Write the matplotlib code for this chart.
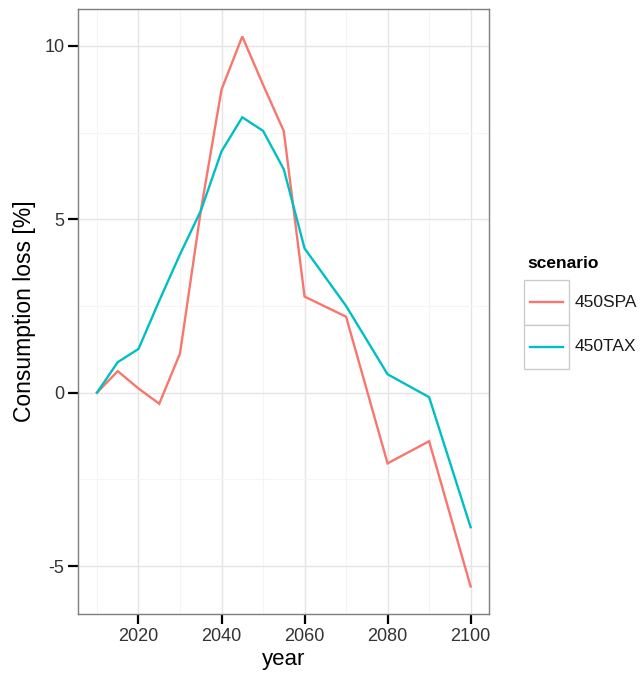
import matplotlib.pyplot as plt
from matplotlib.patches import Rectangle
from matplotlib.lines import Line2D

plt.rcParams['font.family'] = ['Liberation Sans', 'DejaVu Sans']
plt.rcParams['axes.unicode_minus'] = False

# Data
years = [2010, 2015, 2020, 2025, 2030, 2035, 2040, 2045, 2050, 2055, 2060, 2070, 2080, 2090, 2100]
spa = [0.0, 0.62, 0.12, -0.32, 1.13, 5.24, 8.74, 10.27, 8.88, 7.54, 2.77, 2.19, -2.04, -1.40, -5.59]
tax = [0.0, 0.88, 1.26, 2.65, 3.99, 5.24, 6.96, 7.94, 7.55, 6.44, 4.16, 2.50, 0.53, -0.13, -3.88]
scenarios = ['450SPA', '450TAX']
colors = ['#F8766D', '#00BFC4']
xticks = [2020, 2040, 2060, 2080, 2100]
yticks = [-5, 0, 5, 10]

W, H = 644, 681
fig = plt.figure(figsize=(W / 100, H / 100), dpi=100)
ax = fig.add_axes([78.3 / W, 1 - 614 / H, (489.3 - 78.3) / W, (614 - 9) / H])

for series, name, col in zip([spa, tax], scenarios, colors):
    ax.plot(years, series, color=col, lw=1.7, label=name, solid_joinstyle='miter')

# ggplot-like expansion
xr = max(years) - min(years)
ax.set_xlim(min(years) - 0.05 * xr, max(years) + 0.05 * xr)
lo = min(min(spa), min(tax))
hi = max(max(spa), max(tax))
ax.set_ylim(lo - 0.05 * (hi - lo), hi + 0.05 * (hi - lo))

ax.set_xticks(xticks)
ax.set_yticks(yticks)
ax.set_xticks([2010, 2030, 2050, 2070, 2090], minor=True)
ax.set_yticks([-2.5, 2.5, 7.5], minor=True)
ax.grid(which='major', color='#e5e5e5', lw=1.0)
ax.grid(which='minor', color='#f5f5f5', lw=0.8)
ax.set_axisbelow(True)
ax.tick_params(which='major', length=7, width=1.6, color='black',
               labelsize=13, labelcolor='#333333', pad=3)
ax.tick_params(which='minor', length=0)
for s in ax.spines.values():
    s.set_color('#7f7f7f')
    s.set_linewidth(1.0)

ax.set_xlabel('year', fontsize=16, labelpad=3)
ax.set_ylabel('Consumption loss [%]', fontsize=16.5, labelpad=6)

# legend drawn like ggplot's guide
fig.text(527 / W, 1 - 263 / H, 'scenario', fontsize=12.5, fontweight='bold',
         va='center', ha='left')
for i, (name, col) in enumerate(zip(scenarios, colors)):
    top = 280 + i * 44.5
    fig.patches.append(Rectangle((524 / W, 1 - (top + 44.5) / H), 45 / W, 44.5 / H,
                                 transform=fig.transFigure, facecolor='white',
                                 edgecolor='#cccccc', lw=1.0))
    yc = 1 - (top + 22.25) / H
    fig.lines.append(Line2D([530 / W, 563 / W], [yc, yc], transform=fig.transFigure,
                            color=col, lw=1.7))
    fig.text(575 / W, yc, name, fontsize=12.5, va='center', ha='left', color='#1a1a1a')

fig.savefig('out.png', dpi=100)
